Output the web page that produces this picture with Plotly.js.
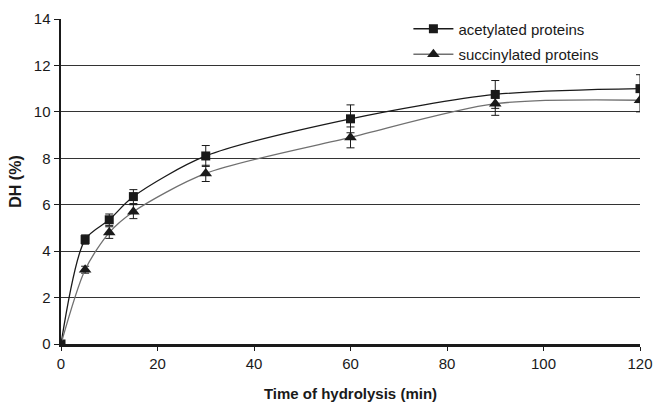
<!DOCTYPE html>
<html>
<head>
<meta charset="utf-8">
<script src="https://cdn.plot.ly/plotly-3.0.1.min.js"></script>
<style>html,body{margin:0;padding:0;background:#fff;}#chart{width:654px;height:403px;}</style>
</head>
<body>
<div id="chart"></div>
<script>
const time = [0, 5, 10, 15, 30, 60, 90, 120];
const acetylated = [0, 4.5, 5.35, 6.35, 8.1, 9.7, 10.75, 11.0];
const acetylatedErr = [0, 0.2, 0.25, 0.3, 0.45, 0.6, 0.6, 0.6];
const succinylated = [0, 3.2, 4.8, 5.7, 7.35, 8.9, 10.35, 10.5];
const succinylatedErr = [0, 0.15, 0.25, 0.3, 0.35, 0.45, 0.5, 0.5];
const xTicks = [0, 20, 40, 60, 80, 100, 120];
const yTicks = [0, 2, 4, 6, 8, 10, 12, 14];

const traces = [
  {
    x: time, y: acetylated, name: 'acetylated proteins', legendgroup: 'a',
    mode: 'lines+markers', type: 'scatter',
    line: {color: '#1a1a1a', width: 1.3, shape: 'spline', smoothing: 0.8},
    marker: {symbol: 'square', size: 9, color: '#1a1a1a'},
    error_y: {type: 'data', array: acetylatedErr, visible: true, color: '#1a1a1a', thickness: 1, width: 4}
  },
  {
    x: time, y: succinylated, name: 'succinylated proteins', legendgroup: 's',
    mode: 'lines+markers', type: 'scatter',
    line: {color: '#707070', width: 1.3, shape: 'spline', smoothing: 0.8},
    marker: {symbol: 'triangle-up', size: 11, color: '#1a1a1a'},
    error_y: {type: 'data', array: succinylatedErr, visible: true, color: '#1a1a1a', thickness: 1, width: 4}
  }
];

const layout = {
  width: 654, height: 403,
  margin: {l: 61, r: 14, t: 17, b: 59},
  paper_bgcolor: '#fff', plot_bgcolor: '#fff',
  font: {family: 'Liberation Sans, Arial, sans-serif', color: '#1a1a1a', size: 15},
  showlegend: true,
  legend: {
    x: 0.6, y: 1.02, xanchor: 'left', yanchor: 'top',
    bgcolor: 'rgba(0,0,0,0)', font: {size: 15},
    itemwidth: 40,
    tracegroupgap: 3, traceorder: 'grouped'
  },
  xaxis: {
    range: [0, 120], tickvals: xTicks, ticktext: xTicks.map(String),
    showgrid: false, zeroline: false,
    showline: true, linecolor: '#1a1a1a', linewidth: 2.5,
    ticks: 'outside', ticklen: 4, tickcolor: '#1a1a1a', tickwidth: 1,
    title: {text: '<b>Time of hydrolysis (min)</b>', font: {size: 15}, standoff: 18},
    fixedrange: true
  },
  yaxis: {
    range: [0, 14], tickvals: yTicks, ticktext: yTicks.map(String),
    showgrid: true, gridcolor: '#333', gridwidth: 1.2, zeroline: false,
    showline: true, linecolor: '#1a1a1a', linewidth: 2.5,
    ticks: 'outside', ticklen: 5, tickcolor: '#1a1a1a', tickwidth: 1,
    title: {text: '<b>DH (%)</b>', font: {size: 16}, standoff: 8},
    fixedrange: true
  }
};

Plotly.newPlot('chart', traces, layout, {displayModeBar: false, staticPlot: true});
</script>
</body>
</html>
